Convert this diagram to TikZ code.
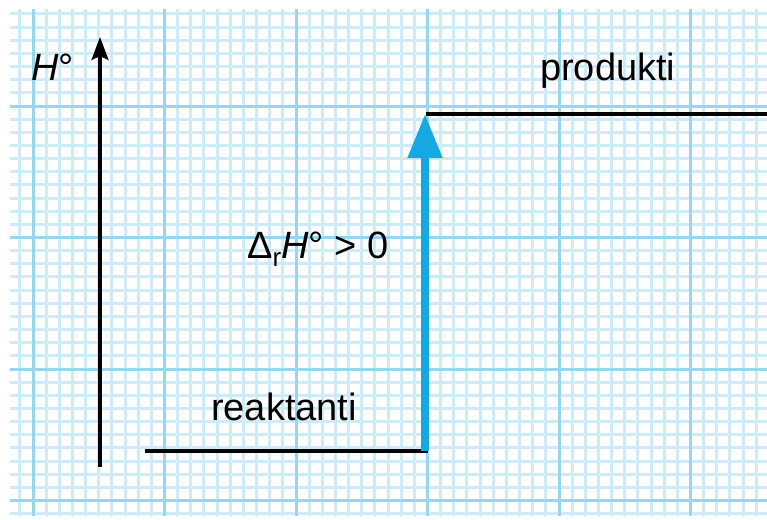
\documentclass[tikz,border=0pt]{standalone}
\usepackage{fontspec}
\setmainfont{Liberation Sans}
\definecolor{gridminor}{RGB}{205,235,248}
\definecolor{gridmajor}{RGB}{150,214,240}
\definecolor{enblue}{RGB}{22,168,226}
\usetikzlibrary{arrows.meta,positioning}

\begin{document}
\begin{tikzpicture}[x=1pt,y=-1pt,
  minorline/.style={gridminor, line width=3pt},
  majorline/.style={gridmajor, line width=3pt},
  level/.style={black, line width=3.4pt},
  lbl/.style={inner sep=0pt, anchor=base west, font=\fontsize{38}{44}\selectfont}]
  \useasboundingbox[fill=white] (0,0) rectangle (767,519);
  % millimetre paper
  \begin{scope}
    \clip (10,10) rectangle (767,515);
    \foreach \i in {0,...,58} {
      \draw[minorline] ({6.7+\i*13.15},0) -- ({6.7+\i*13.15},519);
    }
    \foreach \j in {0,...,39} {
      \draw[minorline] (0,{0.8+\j*13.15}) -- (767,{0.8+\j*13.15});
    }
    \foreach \i in {0,...,5} {
      \draw[majorline] ({33+\i*131.5},0) -- ({33+\i*131.5},519);
    }
    \foreach \j in {0,...,3} {
      \draw[majorline] (0,{106+\j*131.5}) -- (767,{106+\j*131.5});
    }
  \end{scope}
  % axis
  \coordinate (axbot) at (100,467);
  \coordinate (axtop) at (100,37);
  \draw[level, -{Stealth[length=23pt,width=17pt,inset=4pt]}] (axbot) -- (axtop);
  \node[lbl] (hlab) at (31,80) {\textit{H}°};
  % levels
  \coordinate (reakL) at (145,451);
  \coordinate (reakR) at (428,451);
  \coordinate (prodL) at (426,114);
  \coordinate (prodR) at (767,114);
  \draw[level] (reakL) -- (reakR);
  \draw[level] (prodL) -- (prodR);
  \node[lbl] (reak) at (211,420) {reaktanti};
  \node[lbl] (prod) at (540,80) {produkti};
  % enthalpy change
  \coordinate (dhbot) at (425,451);
  \coordinate (dhtop) at (425,114);
  \draw[enblue, line width=8pt, -{Triangle[length=44pt,width=33pt]}] (dhbot) -- (dhtop);
  \node[lbl] (dh) at (247,258) {Δ\raisebox{-0.4ex}{\fontsize{26}{26}\selectfont r}\textit{H}° > 0};
\end{tikzpicture}
\end{document}
